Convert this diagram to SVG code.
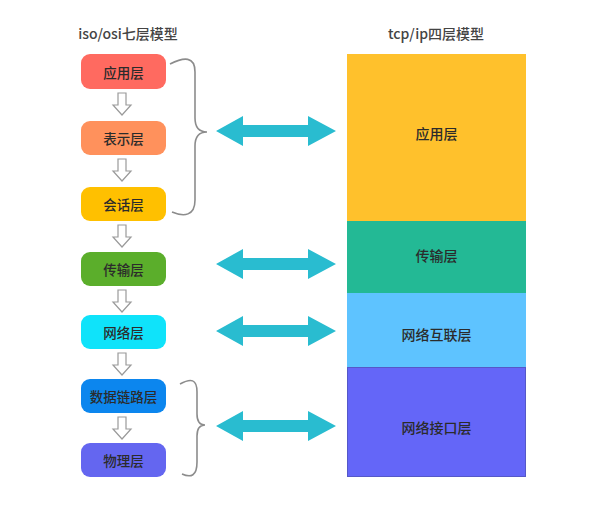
<svg xmlns="http://www.w3.org/2000/svg" width="611" height="506" viewBox="0 0 611 506">
<defs>
<style>
text{font-family:"Noto Sans CJK SC","Noto Sans",sans-serif;fill:#2b2b2b;text-anchor:middle;dominant-baseline:central;font-weight:500}
.t{font-size:14px;fill:#444}
.l{font-size:13.5px}
.r{font-size:14px}
.down{fill:#fff;stroke:#9a9a9a;stroke-width:1.2}
.brace{fill:none;stroke:#8c8c8c;stroke-width:1.6}
.dbl{fill:#29BCD0}
</style>
<path id="da" d="M-4,0 H4 V12 H9 L0,22 L-9,12 H-4 Z"/>
<path id="arr" d="M0,0 L27,-15 L27,-6 L92,-6 L92,-15 L120,0 L92,15 L92,6 L27,6 L27,15 Z"/>
</defs>
<rect width="611" height="506" fill="#fff"/>
<text class="t" x="128" y="33">iso/osi七层模型</text>
<text class="t" x="436" y="33">tcp/ip四层模型</text>

<g id="osi-app"><rect x="81" y="54" width="85" height="35" rx="9" fill="#FF6A60"/><text class="l" x="123.5" y="71.5">应用层</text></g>
<g id="osi-pres"><rect x="81" y="121" width="85" height="34" rx="9" fill="#FF915C"/><text class="l" x="123.5" y="138">表示层</text></g>
<g id="osi-sess"><rect x="81" y="187" width="85" height="34" rx="9" fill="#FFC000"/><text class="l" x="123.5" y="204">会话层</text></g>
<g id="osi-trans"><rect x="81" y="252" width="85" height="34" rx="9" fill="#5BAE2B"/><text class="l" x="123.5" y="269">传输层</text></g>
<g id="osi-net"><rect x="81" y="315" width="85" height="34" rx="9" fill="#0FE3FA"/><text class="l" x="123.5" y="332">网络层</text></g>
<g id="osi-link"><rect x="81" y="379" width="85" height="34" rx="9" fill="#0C86EE"/><text class="l" x="123.5" y="396">数据链路层</text></g>
<g id="osi-phy"><rect x="81" y="443" width="85" height="34" rx="9" fill="#6466F0"/><text class="l" x="123.5" y="460">物理层</text></g>

<g id="tcp-app"><rect x="347" y="54" width="179" height="167" fill="#FFC12C"/><text class="r" x="436.5" y="133">应用层</text></g>
<g id="tcp-trans"><rect x="347" y="221" width="179" height="72" fill="#23B995"/><text class="r" x="436.5" y="255">传输层</text></g>
<g id="tcp-net"><rect x="347" y="293" width="179" height="74" fill="#5EC3FF"/><text class="r" x="436.5" y="334">网络互联层</text></g>
<g id="tcp-if"><rect x="347.5" y="367.5" width="178" height="109" fill="#6466F8" stroke="#5558c8" stroke-width="1"/><text class="r" x="436.5" y="427">网络接口层</text></g>

<g id="connectors">
<use href="#da" class="down" x="122" y="93"/>
<use href="#da" class="down" x="122" y="159"/>
<use href="#da" class="down" x="122" y="225"/>
<use href="#da" class="down" x="122" y="290"/>
<use href="#da" class="down" x="122" y="353"/>
<use href="#da" class="down" x="122" y="417"/>
<path class="brace" d="M170,64 C184,57 195,56 195,72 L195,118 C195,128 200,132 207,132 C200,132 195,136 195,146 L195,200 C195,216 184,217 172,212"/>
<path class="brace" d="M180,384 C191,378 197,379 197,392 L197,414 C197,421 200,425 205,425 C200,425 197,429 197,436 L197,462 C197,476 191,478 182,474"/>
<use href="#arr" class="dbl" x="216" y="131"/>
<use href="#arr" class="dbl" x="216" y="264"/>
<use href="#arr" class="dbl" x="216" y="331"/>
<use href="#arr" class="dbl" x="216" y="426"/>
</g>
</svg>
